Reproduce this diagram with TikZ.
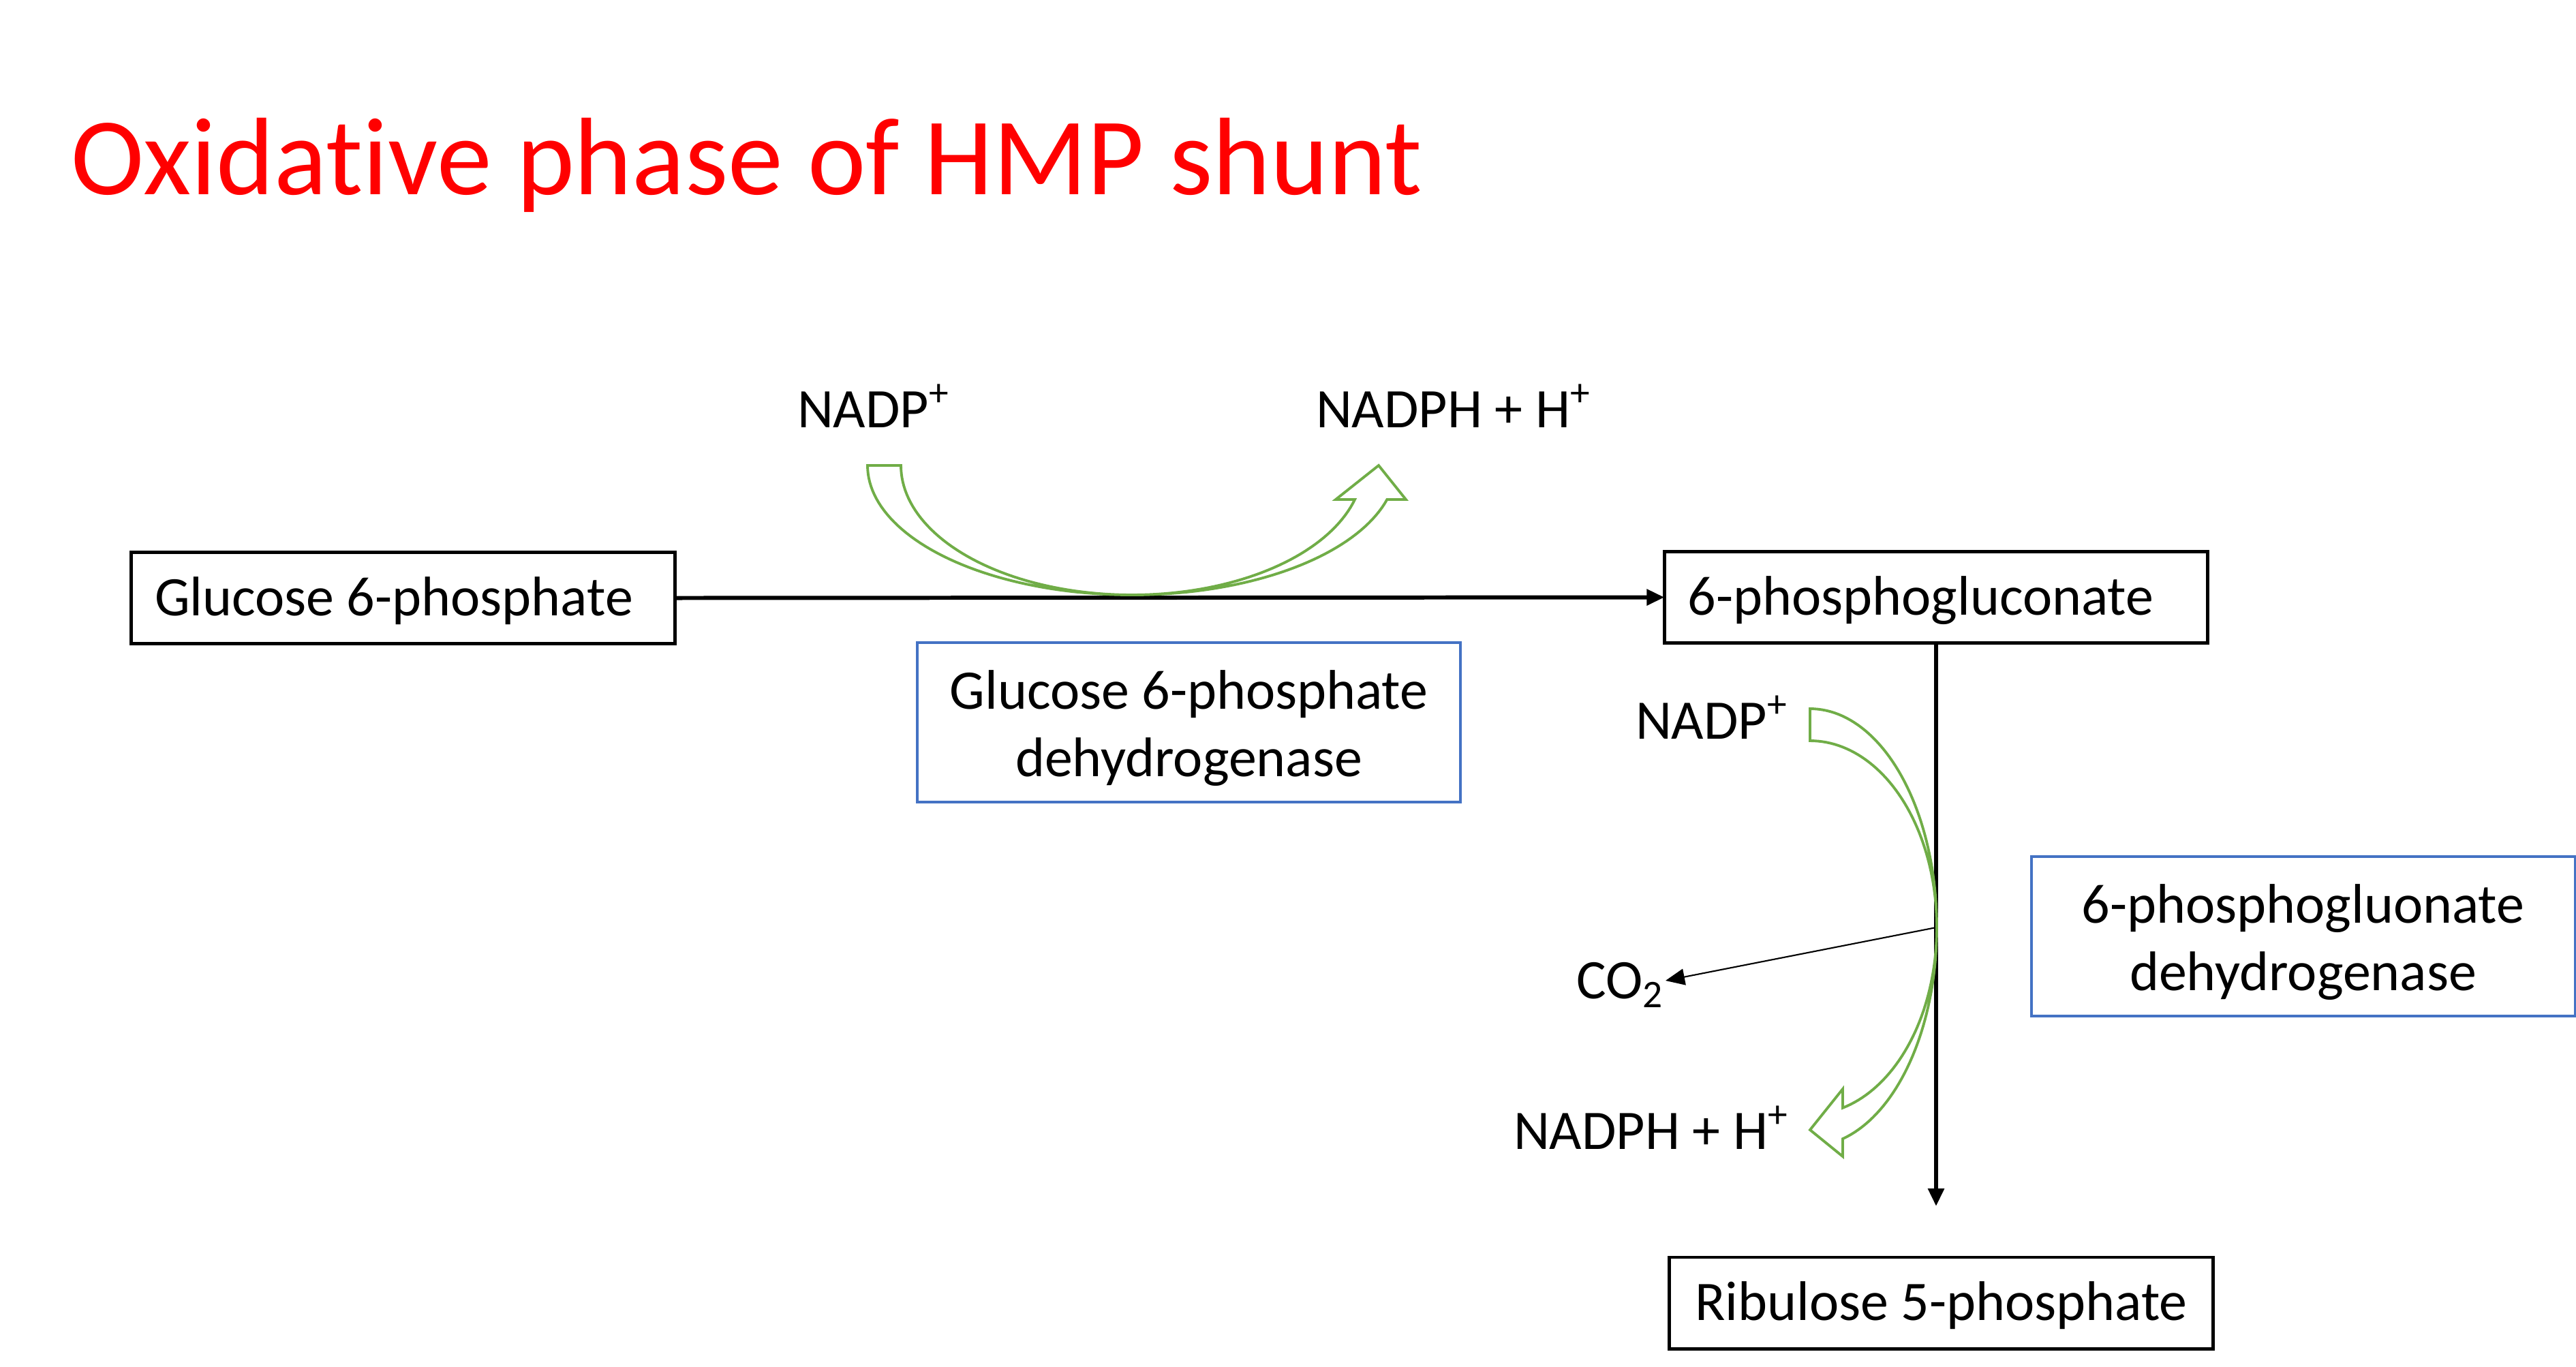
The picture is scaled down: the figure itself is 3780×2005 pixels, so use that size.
\documentclass[tikz,border=0pt]{standalone}
\usepackage{fontspec}
\setmainfont{Carlito}[Ligatures=NoCommon]
\usetikzlibrary{arrows.meta}
\definecolor{arrgreen}{HTML}{70AD47}
\definecolor{boxblue}{HTML}{4472C4}
\begin{document}
\begin{tikzpicture}[x=0.01cm,y=-0.01cm,
  every node/.style={inner sep=0pt,outer sep=0pt},
  lbl/.style={font=\fontsize{23.3}{28.2}\selectfont,anchor=base west},
  blackbox/.style={draw=black,line width=1.4pt,minimum width=7.97cm,minimum height=1.34cm,
     font=\fontsize{23.3}{28.2}\selectfont,text height=0.62cm,text depth=0.11cm},
  bluebox/.style={draw=boxblue,line width=1pt,minimum width=7.97cm,minimum height=2.34cm,
     font=\fontsize{23.3}{28.2}\selectfont,align=center},
  mainarrow/.style={line width=1.7pt,-{Triangle[length=0.26cm,width=0.23cm]}},
  thinarrow/.style={line width=0.6pt,-{Triangle[length=0.28cm,width=0.24cm]}},
  greenarrow/.style={draw=arrgreen,line width=1.1pt,line join=miter}]
\useasboundingbox (0,0) rectangle (3780,2005);
\fill[white] (0,0) rectangle (3780,2005);

% title
\node[anchor=base west,text=red,font=\fontsize{46}{55}\selectfont] (title) at (104,285) {Oxidat\kern0pt ive phase of HMP shunt};

% boxes
\node[blackbox] (g6p) at (591.5,877.5) {Glucose 6-phosphate\hspace*{0.27cm}};
\node[blackbox] (pg6) at (2841,876.5) {6-phosphogluconate\hspace*{0.45cm}};
\node[blackbox] (ru5p) at (2848.5,1912) {Ribulose 5-phosphate};
\node[bluebox] (enz1) at (1744.5,1060) {\rule{0pt}{0.74cm}Glucose 6-phosphate\\dehydrogenase};
\node[bluebox] (enz2) at (3379.5,1374) {\rule{0pt}{0.74cm}6-phosphogluonate\\dehydrogenase};

% labels
\node[lbl] (nadp1) at (1170,627) {NADP\textsuperscript{+}};
\node[lbl] (nadph1) at (1931,627) {NADPH + H\textsuperscript{+}};
\node[lbl] (nadp2) at (2400,1084) {NADP\textsuperscript{+}};
\node[lbl] (nadph2) at (2221,1686) {NADPH + H\textsuperscript{+}};
\node[lbl] (co2) at (2313,1465) {CO\textsubscript{2}};

% main arrows
\coordinate (vend) at (2841,1770);
\coordinate (co2s) at (2841,1361);
\coordinate (co2e) at (2444,1439);
\draw[mainarrow] (g6p.east) -- (pg6.west);
\draw[mainarrow] (pg6.south) -- (vend);
\draw[thinarrow] (co2s) -- (co2e);

% green curved arrows
\draw[greenarrow] plot[domain=180:15.26,samples=90] ({1661+388*cos(\x)},{683+190*sin(\x)})
  -- (2063,733) -- (2023,683) -- (1960,733)
  -- plot[domain=15.26:180,samples=90] ({1661+339*cos(\x)},{683+190*sin(\x)}) -- cycle;
\draw[greenarrow] plot[domain=-90:75.05,samples=90] ({2656+186*cos(\x)},{1361+321*sin(\x)})
  -- (2704,1697) -- (2656,1658) -- (2704,1598)
  -- plot[domain=75.05:-90,samples=90] ({2656+186*cos(\x)},{1361+274*sin(\x)}) -- cycle;
\end{tikzpicture}
\end{document}
